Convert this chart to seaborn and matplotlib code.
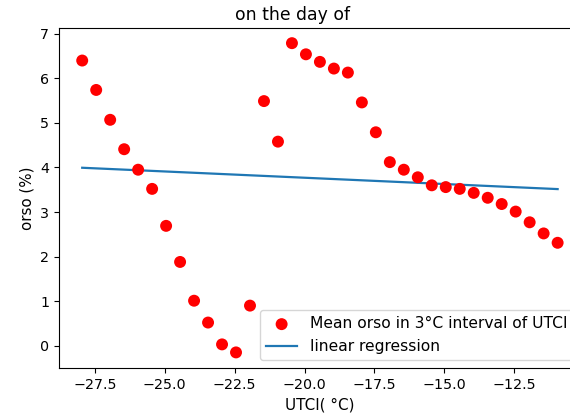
import numpy as np
import pandas as pd
import matplotlib
matplotlib.use("Agg")
import matplotlib.pyplot as plt
import seaborn as sns

utci = [-27.95, -27.45, -26.95, -26.45, -25.95, -25.45, -24.95, -24.45, -23.95,
        -23.45, -22.95, -22.45, -21.95, -21.45, -20.95, -20.45, -19.95, -19.45,
        -18.95, -18.45, -17.95, -17.45, -16.95, -16.45, -15.95, -15.45, -14.95,
        -14.45, -13.95, -13.45, -12.95, -12.45, -11.95, -11.45, -10.95]
orso = [6.40, 5.74, 5.07, 4.41, 3.95, 3.52, 2.69, 1.88, 1.01, 0.52, 0.03, -0.15,
        0.90, 5.49, 4.58, 6.79, 6.54, 6.37, 6.22, 6.13, 5.46, 4.79, 4.12, 3.95,
        3.78, 3.60, 3.56, 3.52, 3.43, 3.32, 3.18, 3.01, 2.77, 2.52, 2.31]

title = "on the day of"
xlabel = "UTCI( °C)"
ylabel = "orso (%)"
scatter_label = "Mean orso in 3°C interval of UTCI"
line_label = "linear regression"

df = pd.DataFrame({"utci": utci, "orso": orso})
slope, intercept = np.polyfit(df["utci"], df["orso"], 1)
df["fit"] = slope * df["utci"] + intercept

fig = plt.figure(figsize=(5.7, 4.2), dpi=100)
ax = fig.add_axes([0.1035, 0.1238, 0.916, 0.8095])

sns.scatterplot(data=df, x="utci", y="orso", ax=ax, color="red", s=74,
                edgecolor="none", label=scatter_label, zorder=3)
sns.lineplot(data=df, x="utci", y="fit", ax=ax, color="#1f77b4", linewidth=1.6,
             label=line_label)

ax.set_xlim(-28.78, -10.11)
ax.set_ylim(-0.50, 7.13)
ax.set_xticks([-27.5, -25.0, -22.5, -20.0, -17.5, -15.0, -12.5])
ax.set_yticks([0, 1, 2, 3, 4, 5, 6, 7])
ax.tick_params(labelsize=10.3)
ax.set_title(title, fontsize=12.4, x=0.448)
ax.set_xlabel(xlabel, fontsize=10.9)
ax.set_ylabel(ylabel, fontsize=10.9)
ax.legend(loc="lower right", fontsize=11.2)

fig.savefig("out.png", dpi=100)
